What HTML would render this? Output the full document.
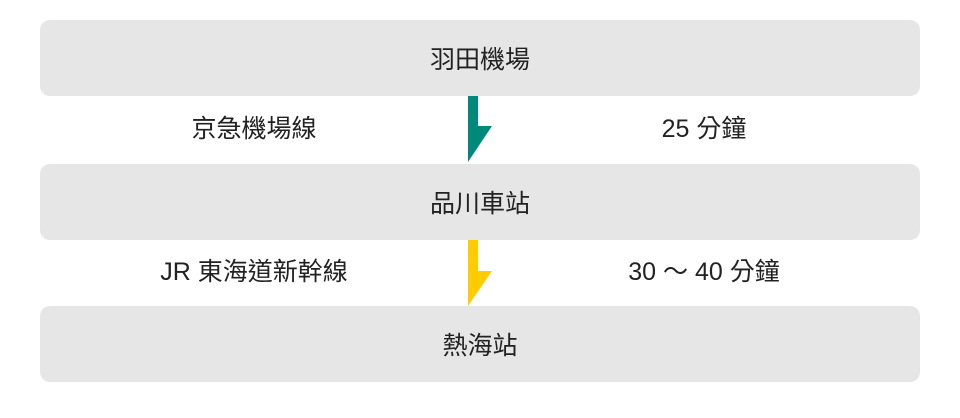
<!DOCTYPE html>
<html><head><meta charset="utf-8"><style>
body{margin:0;width:960px;height:418px;background:#fff;position:relative;font-family:"Liberation Sans","Noto Sans CJK TC",sans-serif;color:#222;overflow:hidden}
.b{position:absolute;left:40px;width:880px;height:76px;background:#e6e6e6;border-radius:10px;display:flex;align-items:center;justify-content:center;font-size:25px}
.t{position:absolute;font-size:25px;width:300px;text-align:center;line-height:30px}
</style></head><body>
<div class="b" style="top:20px">羽田機場</div>
<div class="b" style="top:164px">品川車站</div>
<div class="b" style="top:306px">熱海站</div>
<div class="t" style="left:104px;top:114px">京急機場線</div>
<div class="t" style="left:554px;top:114px">25 分鐘</div>
<div class="t" style="left:104px;top:257px">JR 東海道新幹線</div>
<div class="t" style="left:554px;top:257px">30 ～ 40 分鐘</div>
<svg width="960" height="418" style="position:absolute;left:0;top:0">
<polygon points="468,96 478,96 478,126 492,126 468,162" fill="#00897b"/>
<polygon points="468,240 478,240 478,271 492,271 468,306" fill="#ffcc00"/>
</svg>
</body></html>
